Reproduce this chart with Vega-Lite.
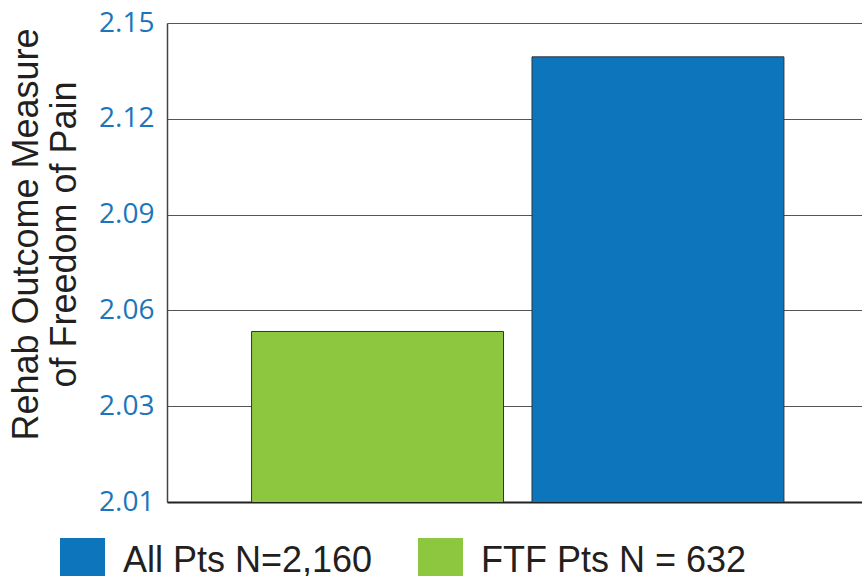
{
  "$schema": "https://vega.github.io/schema/vega-lite/v6.json",
  "width": 695,
  "height": 479,
  "autosize": {"type": "none"},
  "padding": {"left": 167, "top": 23, "right": 0, "bottom": 74},
  "background": "white",
  "config": {"view": {"stroke": null}},
  "data": {
    "values": [
      {"group": "FTF Pts N = 632", "value": 2.0534},
      {"group": "All Pts N=2,160", "value": 2.1394}
    ]
  },
  "mark": {"type": "bar", "stroke": "#333333", "strokeWidth": 1, "clip": true},
  "encoding": {
    "x": {
      "field": "group",
      "type": "nominal",
      "sort": ["FTF Pts N = 632", "All Pts N=2,160"],
      "scale": {"paddingInner": 0.1016, "paddingOuter": 0.29, "align": 0.52},
      "axis": {
        "labels": false,
        "ticks": false,
        "title": null,
        "domain": true,
        "domainColor": "#222222",
        "domainWidth": 2
      }
    },
    "y": {
      "field": "value",
      "type": "quantitative",
      "scale": {"domain": [2.0, 2.15], "zero": false, "nice": false},
      "axis": {
        "values": [2.0, 2.03, 2.06, 2.09, 2.12, 2.15],
        "labelExpr": "datum.value < 2.005 ? '2.01' : format(datum.value, '.2f')",
        "grid": true,
        "gridColor": "#555555",
        "gridWidth": 1.2,
        "gridOpacity": 1,
        "domain": true,
        "domainColor": "#444444",
        "domainWidth": 1.5,
        "ticks": false,
        "labelPadding": 13,
        "labelFont": "Open Sans",
        "labelFontSize": 28,
        "labelColor": "#1a75bc",
        "labelBaseline": "middle",
        "title": ["Rehab Outcome Measure", "of Freedom of Pain"],
        "titleFont": "Liberation Sans",
        "titleFontSize": 36,
        "titleFontWeight": "normal",
        "titleColor": "#231f20",
        "titleAngle": -90,
        "titleAlign": "center",
        "titleBaseline": "alphabetic",
        "titleLineHeight": 38,
        "titleX": -130,
        "titleY": 211
      }
    },
    "color": {
      "field": "group",
      "type": "nominal",
      "scale": {
        "domain": ["All Pts N=2,160", "FTF Pts N = 632"],
        "range": ["#0c75bc", "#8dc63f"]
      },
      "legend": {
        "title": null,
        "orient": "none",
        "direction": "horizontal",
        "legendX": -107,
        "legendY": 515,
        "symbolType": "square",
        "symbolSize": 2025,
        "symbolStrokeWidth": 0,
        "symbolOpacity": 1,
        "labelFont": "Liberation Sans",
        "labelFontSize": 36,
        "labelColor": "#231f20",
        "labelOffset": 18,
        "columnPadding": 45,
        "labelLimit": 400
      }
    }
  }
}
